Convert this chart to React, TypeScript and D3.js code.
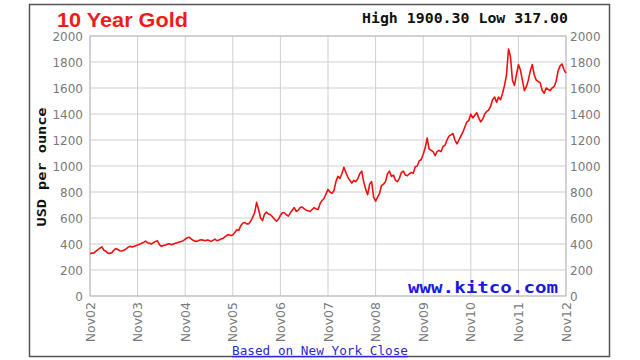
import React from "react";
import * as d3 from "d3";

const xTickLabels = ["Nov02","Nov03","Nov04","Nov05","Nov06","Nov07","Nov08","Nov09","Nov10","Nov11","Nov12"];
const yTicks = [0,200,400,600,800,1000,1200,1400,1600,1800,2000];

// semi-monthly gold price, Nov 2002 .. Nov 2012 (24 points per year)
const gold0203 = [325,330,332,345,356,368,378,352,345,330,328,332,352,365,358,348,346,352,360,372,382,378,380,386];
const gold0304 = [392,398,405,412,422,410,405,400,410,420,425,395,382,388,392,398,402,395,400,405,410,415,420,425];
const gold0405 = [438,448,452,440,428,422,420,428,432,430,425,430,428,420,428,438,425,430,438,442,455,468,472,465];
const gold0506 = [470,488,510,505,540,560,565,555,555,575,605,640,720,665,600,580,630,645,630,625,610,590,575,590];
const gold0607 = [620,640,640,625,615,640,660,680,650,660,680,685,670,660,655,650,665,680,670,665,710,735,750,785];
const gold0708 = [820,800,790,810,880,920,905,940,990,950,915,890,870,890,880,900,940,960,880,820,780,860,880,760];
const gold0809 = [730,760,790,850,860,880,940,960,920,930,890,880,905,950,960,930,925,940,950,945,995,1000,1040,1050];
const gold0910 = [1090,1140,1215,1130,1120,1110,1080,1110,1120,1110,1150,1160,1200,1230,1240,1250,1200,1170,1200,1230,1260,1300,1340,1350];
const gold1011 = [1400,1370,1390,1410,1370,1340,1360,1400,1420,1430,1460,1510,1530,1490,1530,1510,1560,1620,1700,1900,1840,1660,1620,1700];
const gold1112 = [1780,1740,1660,1580,1610,1660,1730,1780,1700,1660,1650,1640,1580,1560,1600,1590,1580,1600,1610,1650,1730,1770,1785,1740];
const goldEnd = [1715];

const gold = [...gold0203,...gold0304,...gold0405,...gold0506,...gold0607,...gold0708,...gold0809,...gold0910,...gold1011,...gold1112,...goldEnd];

export default function App() {
  const W = 640, H = 360;
  const left = 90, right = 566, top = 36, bottom = 296;
  const x = d3.scaleLinear().domain([0, 10]).range([left, right]);
  const y = d3.scaleLinear().domain([0, 2000]).range([bottom, top]);
  const line = d3.line<number>().x((_, i) => x(i / 24)).y(d => y(d));
  const grid = "#cfcfcf";
  const tickColor = "#7a7a7a";
  const tickFont = "DejaVu Sans, Verdana, sans-serif";
  return (
    <svg width={W} height={H} style={{ position: "absolute", left: 0, top: 0 }}>
      <rect x={0} y={0} width={W} height={H} fill="#fff" />
      <rect x={29.5} y={4.5} width={580} height={352} fill="#fff" stroke="#555" strokeWidth={1.5} />
      <text x={57} y={27} fill="#ee1c1c" fontFamily="Liberation Sans, Arial, sans-serif" fontWeight="bold" fontSize={21} textLength={131} lengthAdjust="spacingAndGlyphs">10 Year Gold</text>
      <text x={362} y={23} fill="#111" fontFamily="DejaVu Sans Mono, monospace" fontWeight="bold" fontSize={13.5} textLength={206} lengthAdjust="spacingAndGlyphs">High 1900.30 Low 317.00</text>
      {yTicks.map(t => (
        <line key={"h" + t} x1={left} x2={right} y1={y(t)} y2={y(t)} stroke={grid} strokeWidth={1} />
      ))}
      {xTickLabels.map((_, i) => (
        <line key={"v" + i} x1={x(i)} x2={x(i)} y1={top} y2={bottom} stroke={grid} strokeWidth={1} />
      ))}
      <rect x={left} y={top} width={right - left} height={bottom - top} fill="none" stroke="#bbb" strokeWidth={1} />
      {yTicks.map(t => (
        <text key={"l" + t} x={83} y={y(t) + 4.5} textAnchor="end" fill={tickColor} fontFamily={tickFont} fontSize={12}>{t}</text>
      ))}
      {yTicks.map(t => (
        <text key={"r" + t} x={570} y={y(t) + 4.5} textAnchor="start" fill={tickColor} fontFamily={tickFont} fontSize={12}>{t}</text>
      ))}
      {xTickLabels.map((lab, i) => (
        <text key={"x" + lab} transform={`translate(${x(i) + 4.5},${bottom + 6}) rotate(-90)`} textAnchor="end" fill={tickColor} fontFamily={tickFont} fontSize={12.5}>{lab}</text>
      ))}
      <text transform={`translate(46,167) rotate(-90)`} textAnchor="middle" fill="#111" fontFamily="DejaVu Sans Mono, monospace" fontWeight="bold" fontSize={13} textLength={119} lengthAdjust="spacingAndGlyphs">USD per ounce</text>
      <path d={line(gold) || ""} fill="none" stroke="#f01010" strokeWidth={1.6} strokeLinejoin="round" />
      <text x={408} y={293} fill="#1a1adc" fontFamily="DejaVu Sans Mono, monospace" fontWeight="bold" fontSize={16} textLength={150} lengthAdjust="spacingAndGlyphs">www.kitco.com</text>
      <text x={232} y={355} fill="#2a2ad0" fontFamily="DejaVu Sans Mono, monospace" fontSize={12.5} textLength={176} lengthAdjust="spacingAndGlyphs" textDecoration="underline">Based on New York Close</text>
    </svg>
  );
}
